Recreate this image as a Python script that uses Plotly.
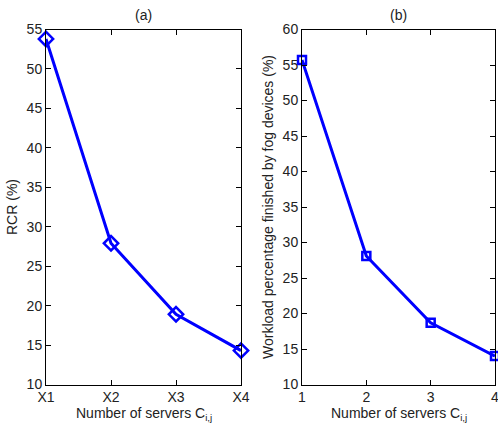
import plotly.graph_objects as go

categories_a = ["X1", "X2", "X3", "X4"]
rcr_values = [53.8, 27.9, 18.9, 14.3]

servers_b = [1, 2, 3, 4]
workload_values = [55.7, 28.1, 18.7, 14.0]

yticks_a = [10, 15, 20, 25, 30, 35, 40, 45, 50, 55]
yticks_b = [10, 15, 20, 25, 30, 35, 40, 45, 50, 55, 60]

W, H = 498, 431
FONT = "Liberation Sans, Arial, sans-serif"
FS = 14
BLUE = "#0000ff"

fig = go.Figure()
fig.add_trace(go.Scatter(
    x=categories_a, y=rcr_values, mode="lines+markers",
    line=dict(color=BLUE, width=3),
    marker=dict(symbol="diamond-open", size=11, color=BLUE, line=dict(width=2.5, color=BLUE)),
    cliponaxis=False, xaxis="x", yaxis="y", showlegend=False))
fig.add_trace(go.Scatter(
    x=servers_b, y=workload_values, mode="lines+markers",
    line=dict(color=BLUE, width=3),
    marker=dict(symbol="square-open", size=8, color=BLUE, line=dict(width=2.5, color=BLUE)),
    cliponaxis=False, xaxis="x2", yaxis="y2", showlegend=False))

x1d = [46 / W, 241 / W]
x2d = [302 / W, 495 / W]
yd = [(H - 384.5) / H, (H - 29.5) / H]

axis_common = dict(showgrid=False, zeroline=False, showline=True, linecolor="black",
                   linewidth=1, mirror="ticks", ticks="inside", ticklen=5,
                   tickcolor="black", automargin=False, ticklabeloverflow="allow",
                   tickfont=dict(family=FONT, size=FS, color="#222"))

fig.update_layout(
    template="none",
    width=W, height=H, margin=dict(l=0, r=0, t=0, b=0, pad=0),
    paper_bgcolor="white", plot_bgcolor="white",
    font=dict(family=FONT, size=FS, color="#222"),
    xaxis=dict(domain=x1d, anchor="y", type="category", range=[0, 3], **axis_common),
    yaxis=dict(domain=yd, anchor="x", range=[10, 55], tickvals=yticks_a, **axis_common),
    xaxis2=dict(domain=x2d, anchor="y2", range=[1, 4], tickvals=servers_b, **axis_common),
    yaxis2=dict(domain=yd, anchor="x2", range=[10, 60], tickvals=yticks_b, **axis_common),
)

ann = [
    dict(text="(a)", x=(x1d[0] + x1d[1]) / 2, y=(H - 15) / H, size=FS),
    dict(text="(b)", x=(x2d[0] + x2d[1]) / 2, y=(H - 15) / H, size=FS),
    dict(text="Number of servers C<sub>i,j</sub>", x=(x1d[0] + x1d[1]) / 2, y=(H - 414) / H, size=FS),
    dict(text="Number of servers C<sub>i,j</sub>", x=(x2d[0] + x2d[1]) / 2, y=(H - 414) / H, size=FS),
    dict(text="RCR (%)", x=12 / W, y=(yd[0] + yd[1]) / 2, textangle=-90, size=FS),
    dict(text="Workload percentage finished by fog devices (%)", x=268 / W,
         y=(yd[0] + yd[1]) / 2, textangle=-90, size=FS),
]
for a in ann:
    sz = a.pop("size")
    fig.add_annotation(xref="paper", yref="paper", showarrow=False,
                       xanchor="center", yanchor="middle",
                       font=dict(family=FONT, size=sz, color="#222"), **a)

fig.write_html("out.html", config={"displayModeBar": False},
               post_script="document.body.style.margin='0';document.body.style.overflow='hidden';")
